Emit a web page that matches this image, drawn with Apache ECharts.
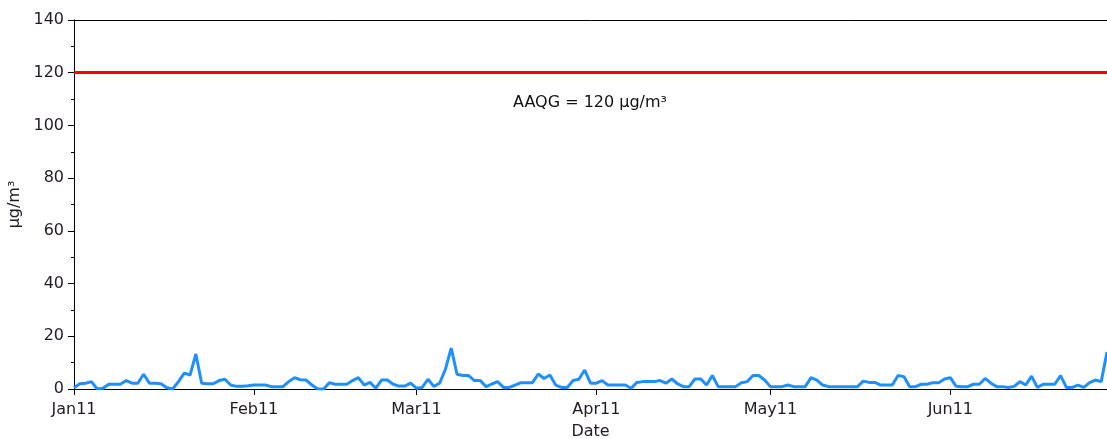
<!DOCTYPE html>
<html>
<head>
<meta charset="utf-8">
<script src="https://cdn.jsdelivr.net/npm/echarts@6/dist/echarts.min.js"></script>
<style>
html,body{margin:0;padding:0;background:#fff;}
#chart{width:1107px;height:439px;}
</style>
</head>
<body>
<div id="chart"></div>
<script>
// Daily concentrations, 1 Jan 2011 .. 28 Jun 2011 (µg/m³)
const startDate = '2011-01-01';
const dayCount = 179;
const monthLabels = ['Jan11','Feb11','Mar11','Apr11','May11','Jun11'];
const values = [
  0.5, 2, 2.2, 2.8, 0, 0.3, 1.8, 1.8, 1.8, 3.2,
  2.2, 2.2, 5.6, 2.2, 2.2, 2, 0.5, 0, 2.8, 6,
  5.3, 13.3, 2.2, 2, 2, 3.2, 3.7, 1.5, 1, 1,
  1.2, 1.5, 1.5, 1.5, 0.9, 0.9, 0.9, 2.8, 4.3, 3.5,
  3.4, 1.5, 0, 0, 2.4, 1.8, 1.8, 1.8, 3.2, 4.3,
  1.5, 2.5, 0.3, 3.4, 3.4, 1.8, 1.1, 1.1, 2.2, 0.3,
  0.6, 3.7, 1, 2.2, 7.5, 15.5, 5.6, 5.1, 5.1, 3.2,
  3.2, 0.9, 1.9, 2.8, 0.6, 0.6, 1.5, 2.4, 2.4, 2.4,
  5.7, 4, 5.3, 1.5, 0.6, 0.6, 3.2, 3.7, 7.2, 2.2,
  2.2, 3.2, 1.5, 1.5, 1.5, 1.5, 0.3, 2.5, 2.8, 2.8,
  2.8, 3.2, 2.2, 3.8, 2, 0.9, 0.9, 3.8, 3.8, 1.5,
  5.1, 0.9, 0.9, 0.9, 0.9, 2.4, 2.8, 5.1, 5.1, 3.4,
  0.9, 0.9, 0.9, 1.5, 0.9, 0.9, 0.9, 4.3, 3.4, 1.5,
  0.9, 0.9, 0.9, 0.9, 0.9, 0.9, 3, 2.5, 2.5, 1.5,
  1.5, 1.5, 5.1, 4.7, 0.9, 0.9, 1.8, 1.8, 2.4, 2.4,
  3.8, 4.3, 1, 0.9, 0.9, 1.8, 1.8, 4, 2.2, 0.9,
  0.9, 0.6, 1, 2.8, 1.5, 4.9, 0.6, 1.8, 1.8, 1.8,
  5.1, 0.6, 0.6, 1.5, 0.6, 2.4, 3.4, 2.8, 14
];
const guidelineValue = 120;
const guidelineText = 'AAQG = 120 µg/m³';

// category dates
const categories = [];
const monthStartIdx = {};
(function(){
  const d0 = new Date(startDate + 'T00:00:00Z');
  for (let i = 0; i < dayCount; i++) {
    const d = new Date(d0.getTime() + i * 86400000);
    categories.push(d.toISOString().slice(0, 10));
    if (d.getUTCDate() === 1) monthStartIdx[i] = monthLabels[d.getUTCMonth()];
  }
})();

const textColor = '#221a26';
const font = 'DejaVu Sans, Verdana, sans-serif';
const chart = echarts.init(document.getElementById('chart'), null, {renderer: 'canvas'});
chart.setOption({
  animation: false,
  backgroundColor: '#fff',
  grid: {left: 74, right: 0, top: 20, bottom: 50, containLabel: false, outerBoundsMode: 'none'},
  xAxis: [{
    type: 'category',
    data: categories,
    boundaryGap: false,
    name: 'Date',
    nameLocation: 'middle',
    nameGap: 35,
    nameTextStyle: {color: textColor, fontSize: 16, fontFamily: font},
    axisLine: {lineStyle: {color: '#000', width: 1}},
    axisTick: {show: true, length: 6, interval: (i) => monthStartIdx[i] !== undefined, lineStyle: {color: '#000'}},
    axisLabel: {interval: (i) => monthStartIdx[i] !== undefined, formatter: (v, i) => monthStartIdx[i] || '', color: textColor, fontSize: 16, fontFamily: font, margin: 13},
    splitLine: {show: false}
  }, {
    type: 'category',
    data: categories,
    boundaryGap: false,
    position: 'top',
    axisLine: {show: true, lineStyle: {color: '#000', width: 1}},
    axisTick: {show: false},
    axisLabel: {show: false},
    splitLine: {show: false}
  }],
  yAxis: {
    type: 'value',
    min: 0, max: 140, interval: 20,
    name: 'µg/m³',
    nameLocation: 'middle',
    nameGap: 43,
    nameTextStyle: {color: textColor, fontSize: 16, fontFamily: font},
    axisLine: {show: true, lineStyle: {color: '#000', width: 1}},
    axisTick: {show: true, length: 6, lineStyle: {color: '#000'}},
    minorTick: {show: true, splitNumber: 2, length: 3, lineStyle: {color: '#000'}},
    axisLabel: {color: textColor, fontSize: 16, fontFamily: font, margin: 10},
    splitLine: {show: false}
  },
  series: [{
    type: 'line',
    data: values,
    showSymbol: false,
    lineStyle: {color: '#1e8fff', width: 3},
    itemStyle: {color: '#1e8fff'},
    markLine: {
      silent: true,
      symbol: 'none',
      label: {show: false},
      lineStyle: {color: '#ff0000', width: 3, type: 'solid'},
      data: [{yAxis: guidelineValue}]
    }
  }],
  graphic: [{
    type: 'text',
    left: 513, top: 95,
    style: {text: guidelineText, fill: '#111', fontSize: 16, fontFamily: font}
  }]
});
</script>
</body>
</html>
